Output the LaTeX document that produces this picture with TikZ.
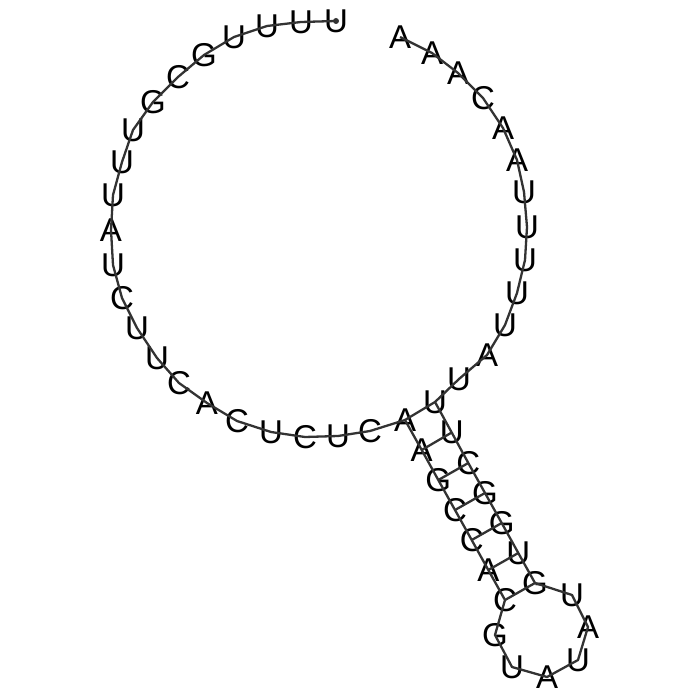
\documentclass[tikz,border=0pt]{standalone}
\usepackage{fontspec}
\setmainfont{Liberation Sans}
\begin{document}
\begin{tikzpicture}[x=1pt,y=-1pt,
  nt/.style={inner sep=0pt,outer sep=0pt,font=\fontsize{33}{33}\selectfont,text=black},
  bb/.style={draw=black!80,line width=2.3pt,line join=round},
  pr/.style={draw=black!80,line width=2.3pt}]
\useasboundingbox (0,0) rectangle (700,700);
% exterior loop, 5' part
\node[nt] (n1) at (336,21) {U};
\node[nt] (n2) at (301,22) {U};
\node[nt] (n3) at (267,26) {U};
\node[nt] (n4) at (234,37) {U};
\node[nt] (n5) at (204,55) {G};
\node[nt] (n6) at (178,77) {C};
\node[nt] (n7) at (153,102) {G};
\node[nt] (n8) at (133,130) {U};
\node[nt] (n9) at (122,162) {U};
\node[nt] (n10) at (113,195) {U};
\node[nt] (n11) at (111,230) {A};
\node[nt] (n12) at (113,265) {U};
\node[nt] (n13) at (122,298) {C};
\node[nt] (n14) at (137,328) {U};
\node[nt] (n15) at (157,358) {U};
\node[nt] (n16) at (179,383) {C};
\node[nt] (n17) at (207,403) {A};
\node[nt] (n18) at (237,421) {C};
\node[nt] (n19) at (271,432) {U};
\node[nt] (n20) at (305,437) {C};
\node[nt] (n21) at (338,436) {U};
\node[nt] (n22) at (370,431) {C};
\node[nt] (n23) at (405,420) {A};
% stem, left strand
\node[nt] (n24) at (421.7,450) {A};
\node[nt] (n25) at (438.3,480) {G};
\node[nt] (n26) at (455,510) {C};
\node[nt] (n27) at (471.7,540) {C};
\node[nt] (n28) at (488.3,570) {A};
\node[nt] (n29) at (505,600) {C};
% hairpin loop
\node[nt] (n30) at (495,635) {G};
\node[nt] (n31) at (512,667) {U};
\node[nt] (n32) at (547,677) {A};
\node[nt] (n33) at (578,660) {U};
\node[nt] (n34) at (588,627) {A};
\node[nt] (n35) at (572,595) {U};
% stem, right strand
\node[nt] (n36) at (535,583) {G};
\node[nt] (n37) at (518.3,553) {U};
\node[nt] (n38) at (501.7,523) {G};
\node[nt] (n39) at (485,493) {G};
\node[nt] (n40) at (468.3,463) {C};
\node[nt] (n41) at (451.7,432.5) {U};
\node[nt] (n42) at (435,402) {U};
% exterior loop, 3' part
\node[nt] (n43) at (459,379) {U};
\node[nt] (n44) at (487,355) {A};
\node[nt] (n45) at (505,325) {U};
\node[nt] (n46) at (517,293) {U};
\node[nt] (n47) at (525,260) {U};
\node[nt] (n48) at (527,227) {U};
\node[nt] (n49) at (524,192) {U};
\node[nt] (n50) at (517,160) {A};
\node[nt] (n51) at (503,128) {A};
\node[nt] (n52) at (483,98) {C};
\node[nt] (n53) at (458,73) {A};
\node[nt] (n54) at (432,53) {A};
\node[nt] (n55) at (400,37) {A};
% backbone
\draw[bb] (n1.center) -- (n2.center) -- (n3.center) -- (n4.center) -- (n5.center)
  -- (n6.center) -- (n7.center) -- (n8.center) -- (n9.center) -- (n10.center)
  -- (n11.center) -- (n12.center) -- (n13.center) -- (n14.center) -- (n15.center)
  -- (n16.center) -- (n17.center) -- (n18.center) -- (n19.center) -- (n20.center)
  -- (n21.center) -- (n22.center) -- (n23.center) -- (n24.center) -- (n25.center)
  -- (n26.center) -- (n27.center) -- (n28.center) -- (n29.center) -- (n30.center)
  -- (n31.center) -- (n32.center) -- (n33.center) -- (n34.center) -- (n35.center)
  -- (n36.center) -- (n37.center) -- (n38.center) -- (n39.center) -- (n40.center)
  -- (n41.center) -- (n42.center) -- (n43.center) -- (n44.center) -- (n45.center)
  -- (n46.center) -- (n47.center) -- (n48.center) -- (n49.center) -- (n50.center)
  -- (n51.center) -- (n52.center) -- (n53.center) -- (n54.center) -- (n55.center);
% base pairs
\draw[pr] (n23.center) -- (n42.center);
\draw[pr] (n24.center) -- (n41.center);
\draw[pr] (n25.center) -- (n40.center);
\draw[pr] (n26.center) -- (n39.center);
\draw[pr] (n27.center) -- (n38.center);
\draw[pr] (n28.center) -- (n37.center);
\draw[pr] (n29.center) -- (n36.center);
% 5' end marker
\fill[black!80] (n1.center) circle (3);
\end{tikzpicture}
\end{document}
